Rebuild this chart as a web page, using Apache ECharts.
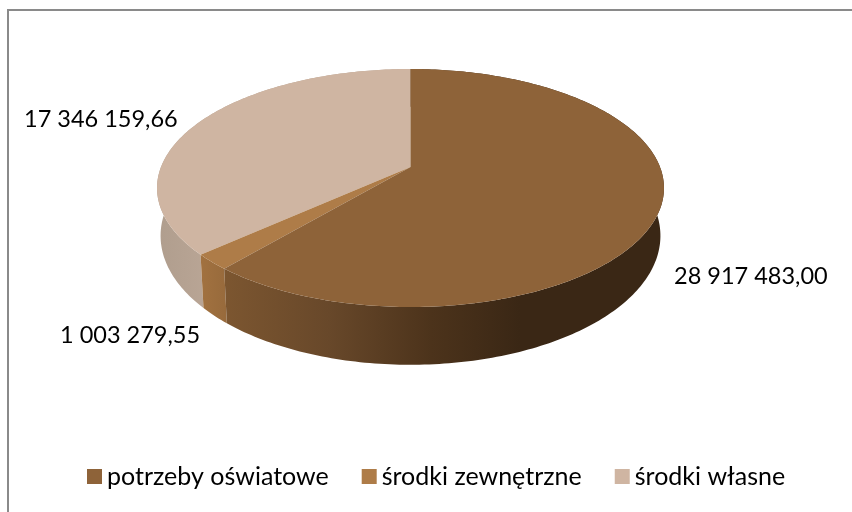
<!DOCTYPE html>
<html>
<head>
<meta charset="utf-8">
<title>Wydatki</title>
<script src="https://cdn.jsdelivr.net/npm/echarts@6/dist/echarts.min.js"></script>
<style>
html,body{margin:0;padding:0;background:#fff;}
#main{width:852px;height:512px;}
</style>
</head>
<body>
<div id="main"></div>
<script>
// dane
var categories = ['potrzeby oświatowe', 'środki zewnętrzne', 'środki własne'];
var values = [28917483.00, 1003279.55, 17346159.66];
var topColors = ['#8e6339', '#ae7c48', '#cfb5a2'];

var labelFont = '23.5px Lato, "Noto Sans", sans-serif';
var labelAnchors = [[674, 276], [60, 335], [24, 119]];

var total = 0;
for (let i = 0; i < values.length; i++) {
    total += values[i];
}

// rzut perspektywiczny tarczy kola, "3D" jak w Excelu
var apexX = 410.5, apexY = 167;
function projectTop(a) {
    let u = Math.sin(a), v = -Math.cos(a);
    let w = 1 - 0.1765 * v;
    return [apexX + 249.5 * u / w, apexY + 115.3 * v / w];
}
function projectBottom(a) {
    let u = Math.sin(a), v = -Math.cos(a);
    let w = 1 - 0.1765 * v;
    return [apexX + 246 * u / w, apexY + 46 + 125 * v / w];
}

function formatPl(n) {
    let s = n.toFixed(2).split('.');
    return s[0].replace(/\B(?=(\d{3})+$)/g, ' ') + ',' + s[1];
}

function sideFill(i) {
    if (i === 0) {
        return new echarts.graphic.LinearGradient(225, 0, 520, 0, [
            {offset: 0, color: '#7c5630'},
            {offset: 0.35, color: '#68482a'},
            {offset: 0.7, color: '#4c331b'},
            {offset: 1, color: '#3a2715'}
        ], true);
    }
    if (i === 1) {
        return new echarts.graphic.LinearGradient(200, 0, 230, 0, [
            {offset: 0, color: '#a27240'},
            {offset: 1, color: '#96693b'}
        ], true);
    }
    return new echarts.graphic.LinearGradient(160, 0, 205, 0, [
        {offset: 0, color: '#b09e8e'},
        {offset: 1, color: '#b9a595'}
    ], true);
}

function makeRender(index) {
    return function (params, api) {
        let start = 0;
        for (let i = 0; i < index; i++) {
            start += values[i] / total * Math.PI * 2;
        }
        let end = start + api.value(0) / total * Math.PI * 2;
        let steps = Math.max(8, Math.ceil((end - start) * 60));
        let topArc = [], bottomArc = [];
        for (let s = 0; s <= steps; s++) {
            let a = start + (end - start) * s / steps;
            topArc.push(projectTop(a));
            bottomArc.push(projectBottom(a));
        }
        let side = topArc.concat(bottomArc.slice().reverse());
        let face = [[apexX, apexY]].concat(topArc);
        let anchor = labelAnchors[index];
        return {
            type: 'group',
            children: [
                {type: 'polygon', shape: {points: side}, style: {fill: sideFill(index)}, z2: 1},
                {type: 'polygon', shape: {points: face}, style: {fill: topColors[index]}, z2: 2},
                {
                    type: 'text',
                    z2: 3,
                    style: {
                        x: anchor[0], y: anchor[1],
                        text: formatPl(api.value(0)),
                        fill: '#000',
                        font: labelFont,
                        align: 'left',
                        verticalAlign: 'middle'
                    }
                }
            ]
        };
    };
}

var series = [];
// kolejnosc rysowania: od tylu do przodu
for (let i = values.length - 1; i >= 0; i--) {
    series.push({
        name: categories[i],
        type: 'custom',
        coordinateSystem: 'none',
        silent: true,
        itemStyle: {color: topColors[i]},
        renderItem: makeRender(i),
        data: [[values[i]]]
    });
}

var chart = echarts.init(document.getElementById('main'), null, {renderer: 'canvas'});
chart.setOption({
    animation: false,
    backgroundColor: '#fff',
    graphic: [
        {type: 'rect', shape: {x: 7, y: 9, width: 845, height: 2}, style: {fill: '#8a8a8a'}, silent: true},
        {type: 'rect', shape: {x: 7, y: 9, width: 2, height: 503}, style: {fill: '#8a8a8a'}, silent: true}
    ],
    legend: {
        left: 82,
        top: 459,
        data: categories,
        icon: 'rect',
        itemWidth: 15,
        itemHeight: 15,
        itemGap: 33,
        selectedMode: false,
        textStyle: {
            color: '#000',
            fontSize: 25,
            fontFamily: 'Lato, "Noto Sans", sans-serif'
        }
    },
    series: series
});
</script>
</body>
</html>
